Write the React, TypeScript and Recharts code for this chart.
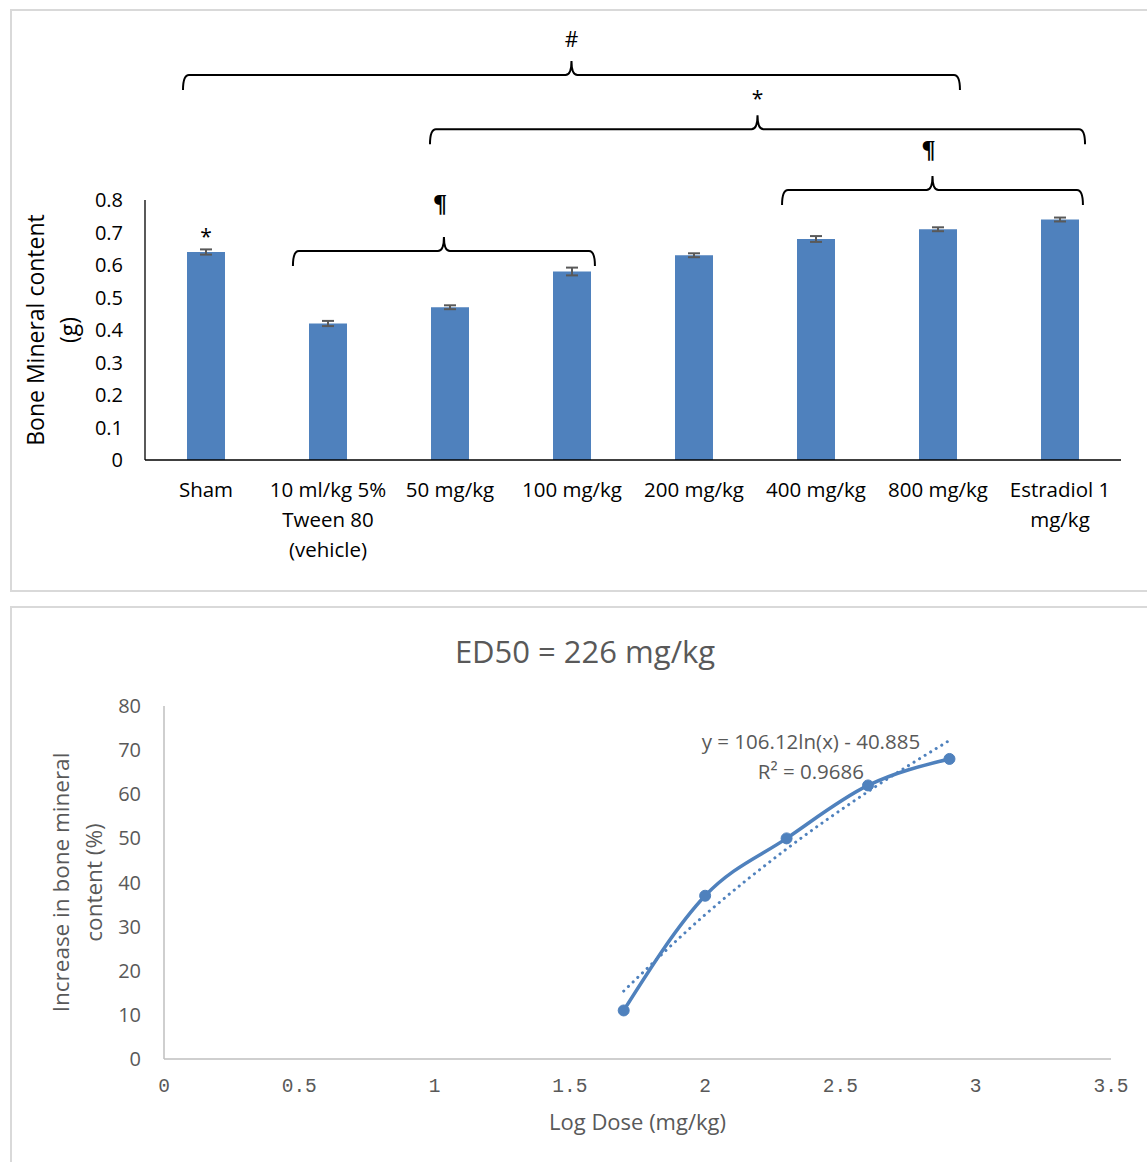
import React from 'react';
import {
  BarChart,
  Bar,
  XAxis,
  YAxis,
  ErrorBar,
  ReferenceLine,
  LabelList,
  ComposedChart,
  Line,
  ReferenceDot,
} from 'recharts';

const FONT = "'Open Sans', 'Noto Sans', sans-serif";

// ---------- Top chart data ----------
const categories = [
  'Sham',
  '10 ml/kg 5%\nTween 80\n(vehicle)',
  '50 mg/kg',
  '100 mg/kg',
  '200 mg/kg',
  '400 mg/kg',
  '800 mg/kg',
  'Estradiol 1\nmg/kg',
];
const bmcValues = [0.64, 0.42, 0.47, 0.58, 0.63, 0.68, 0.71, 0.74];
const bmcErrors = [0.008, 0.008, 0.006, 0.012, 0.006, 0.009, 0.006, 0.006];
const barMarks = ['*', '', '', '', '', '', '', ''];
const bmcTicks = [0, 0.1, 0.2, 0.3, 0.4, 0.5, 0.6, 0.7, 0.8];

// significance brackets (position along the category axis 0..7, value units)
const bracketSymbols = ['#', '*', '¶', '¶'];
const bracketFrom = [0.2725, 2.044, 4.569, 1.061];
const bracketTo = [5.845, 6.742, 6.727, 3.227];
const bracketLevel = [1.185, 1.018, 0.831, 0.643];

// ---------- Bottom chart data ----------
const logDose = [1.699, 2.0, 2.301, 2.602, 2.903];
const increasePct = [11, 37, 50, 62, 68];
const trendPct = [15.4, 32.7, 47.6, 60.6, 72.2];
const doseTicks = [0, 0.5, 1, 1.5, 2, 2.5, 3, 3.5];
const pctTicks = [0, 10, 20, 30, 40, 50, 60, 70, 80];
const equationLines = ['y = 106.12ln(x) - 40.885', 'R² = 0.9686'];

const barRows = categories.map((name, i) => ({
  name,
  value: bmcValues[i],
  err: bmcErrors[i],
  mark: barMarks[i],
}));

const doseRows = logDose.map((x, i) => ({ x, y: increasePct[i], trend: trendPct[i] }));

const BLUE = '#4f81bd';
const GREY = '#595959';

const CatTick = (props: any) => {
  const { x, y, payload } = props;
  const lines = String(payload.value).split('\n');
  return (
    <text x={x} y={y} textAnchor="middle" fill="#000" fontSize={20.5} fontFamily={FONT}>
      {lines.map((l: string, i: number) => (
        <tspan key={i} x={x} dy={i === 0 ? 37 : 30}>
          {l}
        </tspan>
      ))}
    </text>
  );
};

const DoseTick = (props: any) => {
  const { x, y, payload } = props;
  return (
    <text
      x={x}
      y={y + 33}
      textAnchor="middle"
      fill={GREY}
      fontSize={19.5}
      fontFamily="'Liberation Mono', 'DejaVu Sans Mono', monospace"
    >
      {String(payload.value)}
    </text>
  );
};

const YTitle = (props: any) => {
  const { viewBox, lines, xs, size, color } = props;
  const cy = viewBox.y + viewBox.height / 2;
  return (
    <g>
      {lines.map((l: string, i: number) => {
        const x = viewBox.x + xs[i];
        return (
          <text
            key={i}
            x={x}
            y={cy}
            transform={`rotate(-90, ${x}, ${cy})`}
            textAnchor="middle"
            fill={color}
            fontSize={size}
            fontFamily={FONT}
          >
            {l}
          </text>
        );
      })}
    </g>
  );
};

const XTitle = (props: any) => {
  const { viewBox, text, dy, size, color } = props;
  return (
    <text
      x={viewBox.x + viewBox.width / 2}
      y={viewBox.y + dy}
      textAnchor="middle"
      fill={color}
      fontSize={size}
      fontFamily={FONT}
    >
      {text}
    </text>
  );
};

const Brace = (props: any) => {
  const { x1, y1, x2, symbol, idx } = props;
  const y = y1;
  const xc = (x1 + x2) / 2;
  const r = 6;
  const leg = 15;
  const peak = 14;
  const d = `M${x1},${y + leg} Q${x1},${y} ${x1 + r},${y} L${xc - r},${y} Q${xc},${y} ${xc},${y - peak} Q${xc},${y} ${xc + r},${y} L${x2 - r},${y} Q${x2},${y} ${x2},${y + leg}`;
  const isPil = symbol === '¶';
  const baseOffsets = [28, 23, 32, 39];
  return (
    <g>
      <path d={d} fill="none" stroke="#000" strokeWidth={2} />
      <text
        x={isPil ? xc - 4 : xc}
        y={y - baseOffsets[idx]}
        textAnchor="middle"
        fill="#000"
        fontSize={isPil ? 26 : 21}
        fontWeight={isPil ? 700 : 400}
        fontFamily={isPil ? "'Liberation Serif', serif" : FONT}
      >
        {symbol}
      </text>
    </g>
  );
};

const TopChart = () => (
  <BarChart
    width={1137}
    height={580}
    data={barRows}
    margin={{ top: 190, right: 26, bottom: 30, left: 75 }}
  >
    <XAxis
      dataKey="name"
      interval={0}
      axisLine={{ stroke: '#000', strokeWidth: 1.3 }}
      tickLine={false}
      tickSize={0}
      tickMargin={0}
      tick={<CatTick />}
      height={100}
    />
    <XAxis xAxisId="pos" type="number" domain={[0, 7]} allowDataOverflow hide />
    <YAxis
      domain={[0, 0.8]}
      ticks={bmcTicks}
      allowDataOverflow
      width={60}
      axisLine={{ stroke: '#000', strokeWidth: 1.3 }}
      tickLine={false}
      tickSize={0}
      tickMargin={22}
      tick={{ fill: '#000', fontSize: 20, fontFamily: FONT }}
      label={
        <YTitle
          lines={['Bone Mineral content', '(g)']}
          xs={[-41, -8]}
          size={23}
          color="#000"
        />
      }
    />
    <Bar dataKey="value" fill={BLUE} barSize={38} isAnimationActive={false}>
      <ErrorBar dataKey="err" width={6} stroke={GREY} strokeWidth={2} />
      <LabelList
        dataKey="mark"
        position="top"
        offset={8}
        fill="#000"
        fontSize={21}
        fontFamily={FONT}
      />
    </Bar>
    {bracketSymbols.map((s, i) => (
      <ReferenceLine
        key={i}
        xAxisId="pos"
        ifOverflow="visible"
        segment={[
          { x: bracketFrom[i], y: bracketLevel[i] },
          { x: bracketTo[i], y: bracketLevel[i] },
        ]}
        shape={(p: any) => <Brace {...p} symbol={s} idx={i} />}
      />
    ))}
  </BarChart>
);

const EquationLabel = (props: any) => {
  const { cx, cy } = props;
  return (
    <g>
      {equationLines.map((l, i) => (
        <text
          key={i}
          x={cx}
          y={cy + 7 + i * 30}
          textAnchor="middle"
          fill={GREY}
          fontSize={20.5}
          fontFamily={FONT}
        >
          {l}
        </text>
      ))}
    </g>
  );
};

const BottomChart = () => (
  <ComposedChart
    width={1137}
    height={555}
    data={doseRows}
    margin={{ top: 99, right: 36, bottom: 13, left: 84 }}
  >
    <XAxis
      dataKey="x"
      type="number"
      domain={[0, 3.5]}
      ticks={doseTicks}
      allowDataOverflow
      interval={0}
      axisLine={{ stroke: '#bfbfbf', strokeWidth: 1.5 }}
      tickLine={false}
      tickSize={0}
      tickMargin={0}
      tick={<DoseTick />}
      height={90}
      label={<XTitle text="Log Dose (mg/kg)" dy={71} size={22} color={GREY} />}
    />
    <YAxis
      domain={[0, 80]}
      ticks={pctTicks}
      allowDataOverflow
      width={70}
      axisLine={{ stroke: '#bfbfbf', strokeWidth: 1.5 }}
      tickLine={false}
      tickSize={0}
      tickMargin={23}
      tick={{ fill: GREY, fontSize: 20, fontFamily: FONT }}
      label={
        <YTitle
          lines={['Increase in bone mineral', 'content (%)']}
          xs={[-25, 8]}
          size={22.5}
          color={GREY}
        />
      }
    />
    <Line
      dataKey="trend"
      type="monotone"
      stroke={BLUE}
      strokeWidth={3}
      strokeDasharray="0.1 6.4"
      strokeLinecap="round"
      dot={false}
      isAnimationActive={false}
    />
    <Line
      dataKey="y"
      type="monotone"
      stroke={BLUE}
      strokeWidth={3.5}
      dot={{ r: 5.5, fill: BLUE, stroke: BLUE, strokeWidth: 1 }}
      isAnimationActive={false}
    />
    <ReferenceDot x={2.391} y={71.84} r={0} shape={(p: any) => <EquationLabel {...p} />} />
  </ComposedChart>
);

export default function App() {
  return (
    <div
      style={{
        position: 'fixed',
        left: 0,
        top: 0,
        width: 1147,
        height: 1162,
        overflow: 'hidden',
        background: '#fff',
        fontFamily: FONT,
      }}
    >
      <div
        style={{
          position: 'absolute',
          left: 10,
          top: 9,
          width: 1150,
          height: 583,
          border: '2px solid #d9d9d9',
          boxSizing: 'border-box',
        }}
      />
      <div style={{ position: 'absolute', left: 10, top: 10 }}>
        <TopChart />
      </div>
      <div
        style={{
          position: 'absolute',
          left: 10,
          top: 606,
          width: 1150,
          height: 600,
          border: '2px solid #d9d9d9',
          boxSizing: 'border-box',
        }}
      />
      <div
        style={{
          position: 'absolute',
          left: 0,
          top: 631,
          width: 1170,
          height: 40,
          lineHeight: '40px',
          textAlign: 'center',
          fontSize: 31,
          color: GREY,
          fontFamily: FONT,
        }}
      >
        ED50 = 226 mg/kg
      </div>
      <div style={{ position: 'absolute', left: 10, top: 607 }}>
        <BottomChart />
      </div>
    </div>
  );
}
